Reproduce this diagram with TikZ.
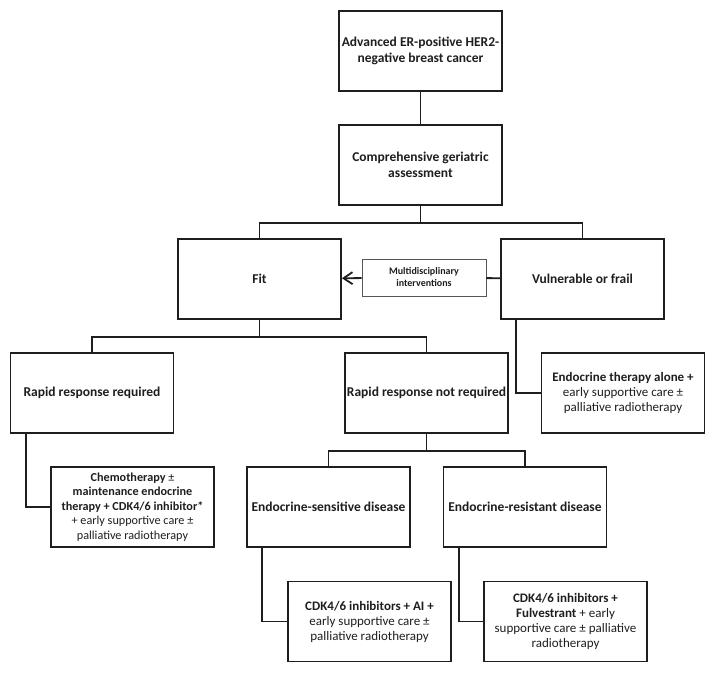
\documentclass[tikz,border=0pt]{standalone}
\usepackage{fontspec}
\setmainfont{Carlito}
\usetikzlibrary{arrows.meta,positioning}
\definecolor{ink}{HTML}{1E1E1E}

\begin{document}
\begin{tikzpicture}[x=1pt,y=-1pt,
    box/.style={draw=ink,line width=1.8pt,minimum width=163pt,minimum height=80pt,
      align=center,inner sep=1pt,text=ink,font=\fontsize{13}{15}\selectfont},
    head/.style={box,font=\bfseries\fontsize{13.5}{15.5}\selectfont},
    smallbox/.style={draw=ink!75,line width=0.9pt,minimum width=124pt,minimum height=37pt,
      align=center,text=ink,font=\bfseries\fontsize{10}{12}\selectfont},
    link/.style={draw=ink,line width=1.8pt}]
  \useasboundingbox (0,0) rectangle (715,673);
  \node[head] (top) at (420.5,51) {Advanced ER-positive HER2-\\negative breast cancer};
  \node[head] (cga) at (420.5,165) {Comprehensive geriatric\\assessment};
  \node[head] (fit) at (259.5,279) {Fit};
  \node[head] (frail) at (582.5,279) {Vulnerable or frail};
  \node[smallbox] (mdi) at (424,277.5) {Multidisciplinary\\interventions};
  \node[head] (rr) at (92,393) {Rapid response required};
  \node[head] (nrr) at (426.5,393) {Rapid response not required};
  \node[box] (endo) at (623,393) {\textbf{Endocrine therapy alone +}\\early supportive care ±\\palliative radiotherapy};
  \node[box,font=\fontsize{12.2}{14.5}\selectfont] (chemo) at (132.5,507) {\textbf{Chemotherapy} ±\\\textbf{maintenance endocrine}\\\textbf{therapy + CDK4/6 inhibitor*}\\+ early supportive care ±\\palliative radiotherapy};
  \node[head] (es) at (328.5,507) {Endocrine-sensitive disease};
  \node[head] (er) at (525,507) {Endocrine-resistant disease};
  \node[box] (cdkai) at (369.5,621.5) {\textbf{CDK4/6 inhibitors + AI +}\\early supportive care ±\\palliative radiotherapy};
  \node[box] (cdkfu) at (565.5,621.5) {\textbf{CDK4/6 inhibitors +}\\\textbf{Fulvestrant} + early\\supportive care ± palliative\\radiotherapy};

  \draw[link] (top) -- (cga);
  \draw[link] (cga.south) -- ++(0,17) -| (fit.north);
  \draw[link] (cga.south) -- ++(0,17) -| (frail.north);
  \draw[link] (frail) -- (mdi);
  \draw[link,-{Straight Barb[length=9pt,width=12pt]}] (mdi) -- (fit);
  \draw[link] (fit.south) -- ++(0,17) -| (rr.north);
  \draw[link] (fit.south) -- ++(0,17) -| (nrr.north);
  \draw[link] (nrr.south) -- ++(0,17) -| (es.north);
  \draw[link] (nrr.south) -- ++(0,17) -| (er.north);
  \draw[link] ([xshift=16pt]frail.south west) |- (endo.west);
  \draw[link] ([xshift=16pt]rr.south west) |- (chemo.west);
  \draw[link] ([xshift=16pt]es.south west) |- (cdkai.west);
  \draw[link] ([xshift=16pt]er.south west) |- (cdkfu.west);
\end{tikzpicture}
\end{document}
